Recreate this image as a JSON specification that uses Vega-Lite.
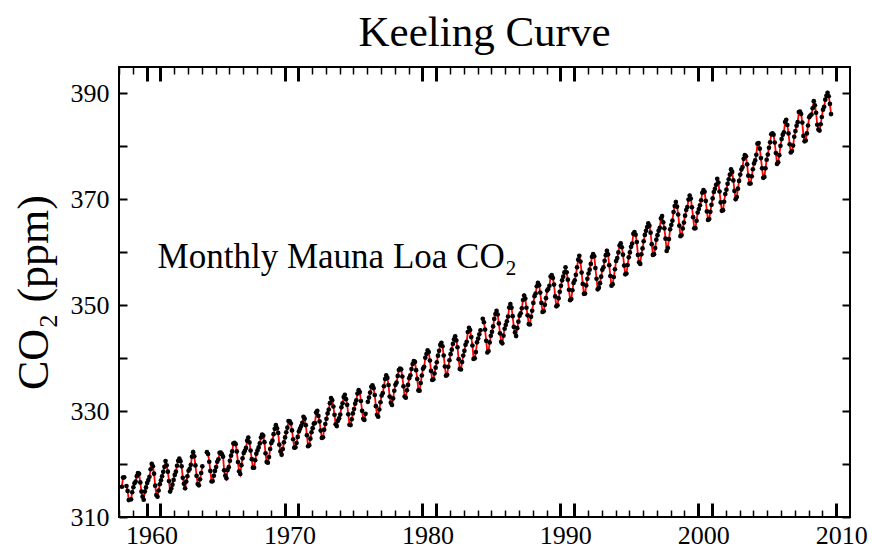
{
  "$schema": "https://vega.github.io/schema/vega-lite/v6.json",
  "width": 731,
  "height": 450,
  "autosize": "none",
  "padding": {"left": 119, "top": 67, "right": 22, "bottom": 33},
  "background": "white",
  "config": {"view": {"stroke": "black", "strokeWidth": 2}},
  "title": {"text": "Keeling Curve", "font": "Liberation Serif", "fontSize": 43, "fontWeight": "normal", "color": "black", "baseline": "alphabetic", "offset": -23, "anchor": "middle"},
  "data": {"values": [
{"t":1958.208,"v":315.71},{"t":1958.292,"v":317.45},{"t":1958.375,"v":317.50},{"t":1958.458,"v":null},{"t":1958.542,"v":315.86},{"t":1958.625,"v":314.93},{"t":1958.708,"v":313.20},{"t":1958.792,"v":null},{"t":1958.875,"v":313.33},{"t":1958.958,"v":314.67},
{"t":1959.042,"v":315.62},{"t":1959.125,"v":316.38},{"t":1959.208,"v":316.71},{"t":1959.292,"v":317.72},{"t":1959.375,"v":318.29},{"t":1959.458,"v":318.15},{"t":1959.542,"v":316.54},{"t":1959.625,"v":314.80},{"t":1959.708,"v":313.84},{"t":1959.792,"v":313.26},{"t":1959.875,"v":314.80},{"t":1959.958,"v":315.58},
{"t":1960.042,"v":316.43},{"t":1960.125,"v":316.97},{"t":1960.208,"v":317.58},{"t":1960.292,"v":319.02},{"t":1960.375,"v":320.03},{"t":1960.458,"v":319.59},{"t":1960.542,"v":318.18},{"t":1960.625,"v":315.91},{"t":1960.708,"v":314.16},{"t":1960.792,"v":313.83},{"t":1960.875,"v":315.00},{"t":1960.958,"v":316.19},
{"t":1961.042,"v":316.93},{"t":1961.125,"v":317.70},{"t":1961.208,"v":318.54},{"t":1961.292,"v":319.48},{"t":1961.375,"v":320.58},{"t":1961.458,"v":319.77},{"t":1961.542,"v":318.57},{"t":1961.625,"v":316.79},{"t":1961.708,"v":314.80},{"t":1961.792,"v":315.38},{"t":1961.875,"v":316.10},{"t":1961.958,"v":317.01},
{"t":1962.042,"v":317.94},{"t":1962.125,"v":318.56},{"t":1962.208,"v":319.68},{"t":1962.292,"v":320.63},{"t":1962.375,"v":321.01},{"t":1962.458,"v":320.55},{"t":1962.542,"v":319.58},{"t":1962.625,"v":317.40},{"t":1962.708,"v":316.26},{"t":1962.792,"v":315.42},{"t":1962.875,"v":316.69},{"t":1962.958,"v":317.69},
{"t":1963.042,"v":318.74},{"t":1963.125,"v":319.08},{"t":1963.208,"v":319.86},{"t":1963.292,"v":321.39},{"t":1963.375,"v":322.25},{"t":1963.458,"v":321.47},{"t":1963.542,"v":319.74},{"t":1963.625,"v":317.77},{"t":1963.708,"v":316.21},{"t":1963.792,"v":315.99},{"t":1963.875,"v":317.12},{"t":1963.958,"v":318.31},
{"t":1964.042,"v":319.57},{"t":1964.125,"v":null},{"t":1964.208,"v":null},{"t":1964.292,"v":null},{"t":1964.375,"v":322.25},{"t":1964.458,"v":321.89},{"t":1964.542,"v":320.44},{"t":1964.625,"v":318.70},{"t":1964.708,"v":316.70},{"t":1964.792,"v":316.79},{"t":1964.875,"v":317.79},{"t":1964.958,"v":318.71},
{"t":1965.042,"v":319.44},{"t":1965.125,"v":320.44},{"t":1965.208,"v":320.89},{"t":1965.292,"v":322.13},{"t":1965.375,"v":322.16},{"t":1965.458,"v":321.87},{"t":1965.542,"v":321.39},{"t":1965.625,"v":318.81},{"t":1965.708,"v":317.81},{"t":1965.792,"v":317.30},{"t":1965.875,"v":318.87},{"t":1965.958,"v":319.42},
{"t":1966.042,"v":320.62},{"t":1966.125,"v":321.59},{"t":1966.208,"v":322.39},{"t":1966.292,"v":323.87},{"t":1966.375,"v":324.01},{"t":1966.458,"v":323.75},{"t":1966.542,"v":322.39},{"t":1966.625,"v":320.37},{"t":1966.708,"v":318.64},{"t":1966.792,"v":318.10},{"t":1966.875,"v":319.79},{"t":1966.958,"v":321.08},
{"t":1967.042,"v":322.07},{"t":1967.125,"v":322.50},{"t":1967.208,"v":323.04},{"t":1967.292,"v":324.42},{"t":1967.375,"v":325.00},{"t":1967.458,"v":324.09},{"t":1967.542,"v":322.55},{"t":1967.625,"v":320.92},{"t":1967.708,"v":319.31},{"t":1967.792,"v":319.31},{"t":1967.875,"v":320.72},{"t":1967.958,"v":321.96},
{"t":1968.042,"v":322.57},{"t":1968.125,"v":323.15},{"t":1968.208,"v":323.89},{"t":1968.292,"v":325.02},{"t":1968.375,"v":325.57},{"t":1968.458,"v":325.36},{"t":1968.542,"v":324.14},{"t":1968.625,"v":322.03},{"t":1968.708,"v":320.41},{"t":1968.792,"v":320.25},{"t":1968.875,"v":321.31},{"t":1968.958,"v":322.84},
{"t":1969.042,"v":324.00},{"t":1969.125,"v":324.42},{"t":1969.208,"v":325.64},{"t":1969.292,"v":326.66},{"t":1969.375,"v":327.34},{"t":1969.458,"v":326.76},{"t":1969.542,"v":325.88},{"t":1969.625,"v":323.67},{"t":1969.708,"v":322.38},{"t":1969.792,"v":321.78},{"t":1969.875,"v":322.85},{"t":1969.958,"v":324.11},
{"t":1970.042,"v":325.03},{"t":1970.125,"v":325.99},{"t":1970.208,"v":326.87},{"t":1970.292,"v":328.13},{"t":1970.375,"v":328.07},{"t":1970.458,"v":327.66},{"t":1970.542,"v":326.35},{"t":1970.625,"v":324.69},{"t":1970.708,"v":323.10},{"t":1970.792,"v":323.16},{"t":1970.875,"v":323.98},{"t":1970.958,"v":325.13},
{"t":1971.042,"v":326.17},{"t":1971.125,"v":326.68},{"t":1971.208,"v":327.18},{"t":1971.292,"v":327.78},{"t":1971.375,"v":328.92},{"t":1971.458,"v":328.57},{"t":1971.542,"v":327.34},{"t":1971.625,"v":325.46},{"t":1971.708,"v":323.36},{"t":1971.792,"v":323.57},{"t":1971.875,"v":324.80},{"t":1971.958,"v":326.01},
{"t":1972.042,"v":326.77},{"t":1972.125,"v":327.63},{"t":1972.208,"v":327.75},{"t":1972.292,"v":329.72},{"t":1972.375,"v":330.07},{"t":1972.458,"v":329.09},{"t":1972.542,"v":328.05},{"t":1972.625,"v":326.32},{"t":1972.708,"v":324.93},{"t":1972.792,"v":325.06},{"t":1972.875,"v":326.50},{"t":1972.958,"v":327.55},
{"t":1973.042,"v":328.54},{"t":1973.125,"v":329.56},{"t":1973.208,"v":330.30},{"t":1973.292,"v":331.50},{"t":1973.375,"v":332.48},{"t":1973.458,"v":332.07},{"t":1973.542,"v":330.87},{"t":1973.625,"v":329.31},{"t":1973.708,"v":327.51},{"t":1973.792,"v":327.18},{"t":1973.875,"v":328.16},{"t":1973.958,"v":328.64},
{"t":1974.042,"v":329.35},{"t":1974.125,"v":330.71},{"t":1974.208,"v":331.48},{"t":1974.292,"v":332.65},{"t":1974.375,"v":333.09},{"t":1974.458,"v":332.25},{"t":1974.542,"v":331.18},{"t":1974.625,"v":329.40},{"t":1974.708,"v":327.43},{"t":1974.792,"v":327.37},{"t":1974.875,"v":328.46},{"t":1974.958,"v":329.57},
{"t":1975.042,"v":330.40},{"t":1975.125,"v":331.40},{"t":1975.208,"v":332.04},{"t":1975.292,"v":333.31},{"t":1975.375,"v":333.96},{"t":1975.458,"v":333.59},{"t":1975.542,"v":331.91},{"t":1975.625,"v":330.06},{"t":1975.708,"v":328.56},{"t":1975.792,"v":328.34},{"t":1975.875,"v":329.49},{"t":1975.958,"v":null},
{"t":1976.042,"v":331.75},{"t":1976.125,"v":332.56},{"t":1976.208,"v":333.50},{"t":1976.292,"v":334.58},{"t":1976.375,"v":334.87},{"t":1976.458,"v":334.34},{"t":1976.542,"v":333.05},{"t":1976.625,"v":330.94},{"t":1976.708,"v":329.30},{"t":1976.792,"v":328.94},{"t":1976.875,"v":330.31},{"t":1976.958,"v":331.68},
{"t":1977.042,"v":332.93},{"t":1977.125,"v":333.42},{"t":1977.208,"v":334.70},{"t":1977.292,"v":336.07},{"t":1977.375,"v":336.74},{"t":1977.458,"v":336.27},{"t":1977.542,"v":334.93},{"t":1977.625,"v":332.75},{"t":1977.708,"v":331.58},{"t":1977.792,"v":331.16},{"t":1977.875,"v":332.40},{"t":1977.958,"v":333.85},
{"t":1978.042,"v":334.97},{"t":1978.125,"v":335.39},{"t":1978.208,"v":336.64},{"t":1978.292,"v":337.76},{"t":1978.375,"v":338.01},{"t":1978.458,"v":337.89},{"t":1978.542,"v":336.54},{"t":1978.625,"v":334.68},{"t":1978.708,"v":332.76},{"t":1978.792,"v":332.54},{"t":1978.875,"v":333.92},{"t":1978.958,"v":334.95},
{"t":1979.042,"v":336.23},{"t":1979.125,"v":336.76},{"t":1979.208,"v":337.96},{"t":1979.292,"v":338.89},{"t":1979.375,"v":339.47},{"t":1979.458,"v":339.29},{"t":1979.542,"v":337.73},{"t":1979.625,"v":336.09},{"t":1979.708,"v":333.91},{"t":1979.792,"v":333.86},{"t":1979.875,"v":335.29},{"t":1979.958,"v":336.73},
{"t":1980.042,"v":338.01},{"t":1980.125,"v":338.36},{"t":1980.208,"v":340.08},{"t":1980.292,"v":340.77},{"t":1980.375,"v":341.46},{"t":1980.458,"v":341.17},{"t":1980.542,"v":339.56},{"t":1980.625,"v":337.60},{"t":1980.708,"v":335.88},{"t":1980.792,"v":336.01},{"t":1980.875,"v":337.10},{"t":1980.958,"v":338.21},
{"t":1981.042,"v":339.23},{"t":1981.125,"v":340.47},{"t":1981.208,"v":341.38},{"t":1981.292,"v":342.51},{"t":1981.375,"v":342.91},{"t":1981.458,"v":342.25},{"t":1981.542,"v":340.49},{"t":1981.625,"v":338.43},{"t":1981.708,"v":336.69},{"t":1981.792,"v":336.85},{"t":1981.875,"v":338.36},{"t":1981.958,"v":339.61},
{"t":1982.042,"v":340.75},{"t":1982.125,"v":341.61},{"t":1982.208,"v":342.70},{"t":1982.292,"v":343.56},{"t":1982.375,"v":344.13},{"t":1982.458,"v":343.35},{"t":1982.542,"v":342.06},{"t":1982.625,"v":339.82},{"t":1982.708,"v":337.97},{"t":1982.792,"v":337.86},{"t":1982.875,"v":339.26},{"t":1982.958,"v":340.49},
{"t":1983.042,"v":341.38},{"t":1983.125,"v":342.52},{"t":1983.208,"v":343.10},{"t":1983.292,"v":344.94},{"t":1983.375,"v":345.75},{"t":1983.458,"v":345.32},{"t":1983.542,"v":343.99},{"t":1983.625,"v":342.39},{"t":1983.708,"v":339.86},{"t":1983.792,"v":339.99},{"t":1983.875,"v":341.16},{"t":1983.958,"v":342.99},
{"t":1984.042,"v":343.70},{"t":1984.125,"v":344.51},{"t":1984.208,"v":345.28},{"t":1984.292,"v":null},{"t":1984.375,"v":347.43},{"t":1984.458,"v":346.79},{"t":1984.542,"v":345.40},{"t":1984.625,"v":343.28},{"t":1984.708,"v":341.07},{"t":1984.792,"v":341.35},{"t":1984.875,"v":342.98},{"t":1984.958,"v":344.22},
{"t":1985.042,"v":344.97},{"t":1985.125,"v":345.99},{"t":1985.208,"v":347.42},{"t":1985.292,"v":348.35},{"t":1985.375,"v":348.93},{"t":1985.458,"v":348.25},{"t":1985.542,"v":346.56},{"t":1985.625,"v":344.69},{"t":1985.708,"v":343.09},{"t":1985.792,"v":342.80},{"t":1985.875,"v":344.24},{"t":1985.958,"v":345.56},
{"t":1986.042,"v":346.29},{"t":1986.125,"v":346.96},{"t":1986.208,"v":347.86},{"t":1986.292,"v":349.55},{"t":1986.375,"v":350.21},{"t":1986.458,"v":349.54},{"t":1986.542,"v":347.94},{"t":1986.625,"v":345.91},{"t":1986.708,"v":344.86},{"t":1986.792,"v":344.17},{"t":1986.875,"v":345.66},{"t":1986.958,"v":346.90},
{"t":1987.042,"v":348.02},{"t":1987.125,"v":348.47},{"t":1987.208,"v":349.42},{"t":1987.292,"v":350.99},{"t":1987.375,"v":351.84},{"t":1987.458,"v":351.25},{"t":1987.542,"v":349.52},{"t":1987.625,"v":348.10},{"t":1987.708,"v":346.44},{"t":1987.792,"v":346.36},{"t":1987.875,"v":347.81},{"t":1987.958,"v":348.96},
{"t":1988.042,"v":350.43},{"t":1988.125,"v":351.72},{"t":1988.208,"v":352.22},{"t":1988.292,"v":353.59},{"t":1988.375,"v":354.22},{"t":1988.458,"v":353.79},{"t":1988.542,"v":352.39},{"t":1988.625,"v":350.44},{"t":1988.708,"v":348.72},{"t":1988.792,"v":348.88},{"t":1988.875,"v":350.07},{"t":1988.958,"v":351.34},
{"t":1989.042,"v":352.76},{"t":1989.125,"v":353.07},{"t":1989.208,"v":353.68},{"t":1989.292,"v":355.42},{"t":1989.375,"v":355.67},{"t":1989.458,"v":355.13},{"t":1989.542,"v":353.90},{"t":1989.625,"v":351.67},{"t":1989.708,"v":349.80},{"t":1989.792,"v":349.99},{"t":1989.875,"v":351.30},{"t":1989.958,"v":352.53},
{"t":1990.042,"v":353.66},{"t":1990.125,"v":354.70},{"t":1990.208,"v":355.39},{"t":1990.292,"v":356.20},{"t":1990.375,"v":357.16},{"t":1990.458,"v":356.22},{"t":1990.542,"v":354.82},{"t":1990.625,"v":352.91},{"t":1990.708,"v":350.96},{"t":1990.792,"v":351.18},{"t":1990.875,"v":352.83},{"t":1990.958,"v":354.21},
{"t":1991.042,"v":354.72},{"t":1991.125,"v":355.75},{"t":1991.208,"v":357.16},{"t":1991.292,"v":358.60},{"t":1991.375,"v":359.34},{"t":1991.458,"v":358.24},{"t":1991.542,"v":356.17},{"t":1991.625,"v":354.03},{"t":1991.708,"v":352.16},{"t":1991.792,"v":352.21},{"t":1991.875,"v":353.75},{"t":1991.958,"v":354.99},
{"t":1992.042,"v":355.99},{"t":1992.125,"v":356.72},{"t":1992.208,"v":357.81},{"t":1992.292,"v":359.15},{"t":1992.375,"v":359.66},{"t":1992.458,"v":359.25},{"t":1992.542,"v":357.02},{"t":1992.625,"v":355.00},{"t":1992.708,"v":353.01},{"t":1992.792,"v":353.31},{"t":1992.875,"v":354.16},{"t":1992.958,"v":355.40},
{"t":1993.042,"v":356.70},{"t":1993.125,"v":357.17},{"t":1993.208,"v":358.38},{"t":1993.292,"v":359.46},{"t":1993.375,"v":360.28},{"t":1993.458,"v":359.60},{"t":1993.542,"v":357.57},{"t":1993.625,"v":355.52},{"t":1993.708,"v":353.70},{"t":1993.792,"v":353.98},{"t":1993.875,"v":355.33},{"t":1993.958,"v":356.80},
{"t":1994.042,"v":358.36},{"t":1994.125,"v":358.91},{"t":1994.208,"v":359.97},{"t":1994.292,"v":361.26},{"t":1994.375,"v":361.68},{"t":1994.458,"v":360.95},{"t":1994.542,"v":359.55},{"t":1994.625,"v":357.49},{"t":1994.708,"v":355.84},{"t":1994.792,"v":356.00},{"t":1994.875,"v":357.59},{"t":1994.958,"v":359.05},
{"t":1995.042,"v":359.98},{"t":1995.125,"v":361.03},{"t":1995.208,"v":361.66},{"t":1995.292,"v":363.48},{"t":1995.375,"v":363.82},{"t":1995.458,"v":363.30},{"t":1995.542,"v":361.94},{"t":1995.625,"v":359.50},{"t":1995.708,"v":358.11},{"t":1995.792,"v":357.80},{"t":1995.875,"v":359.61},{"t":1995.958,"v":360.74},
{"t":1996.042,"v":362.09},{"t":1996.125,"v":363.29},{"t":1996.208,"v":364.06},{"t":1996.292,"v":364.76},{"t":1996.375,"v":365.45},{"t":1996.458,"v":365.01},{"t":1996.542,"v":363.70},{"t":1996.625,"v":361.54},{"t":1996.708,"v":359.51},{"t":1996.792,"v":359.65},{"t":1996.875,"v":360.80},{"t":1996.958,"v":362.38},
{"t":1997.042,"v":363.23},{"t":1997.125,"v":364.06},{"t":1997.208,"v":364.61},{"t":1997.292,"v":366.40},{"t":1997.375,"v":366.84},{"t":1997.458,"v":365.68},{"t":1997.542,"v":364.52},{"t":1997.625,"v":362.57},{"t":1997.708,"v":360.24},{"t":1997.792,"v":360.83},{"t":1997.875,"v":362.49},{"t":1997.958,"v":364.34},
{"t":1998.042,"v":365.16},{"t":1998.125,"v":365.98},{"t":1998.208,"v":367.59},{"t":1998.292,"v":368.75},{"t":1998.375,"v":369.49},{"t":1998.458,"v":368.61},{"t":1998.542,"v":367.14},{"t":1998.625,"v":365.03},{"t":1998.708,"v":363.04},{"t":1998.792,"v":363.26},{"t":1998.875,"v":364.50},{"t":1998.958,"v":365.62},
{"t":1999.042,"v":366.91},{"t":1999.125,"v":367.99},{"t":1999.208,"v":368.55},{"t":1999.292,"v":369.96},{"t":1999.375,"v":370.72},{"t":1999.458,"v":370.15},{"t":1999.542,"v":368.51},{"t":1999.625,"v":366.63},{"t":1999.708,"v":364.52},{"t":1999.792,"v":364.55},{"t":1999.875,"v":365.94},{"t":1999.958,"v":367.51},
{"t":2000.042,"v":368.18},{"t":2000.125,"v":368.89},{"t":2000.208,"v":369.83},{"t":2000.292,"v":371.25},{"t":2000.375,"v":371.73},{"t":2000.458,"v":371.44},{"t":2000.542,"v":369.70},{"t":2000.625,"v":367.72},{"t":2000.708,"v":366.12},{"t":2000.792,"v":366.29},{"t":2000.875,"v":367.64},{"t":2000.958,"v":368.97},
{"t":2001.042,"v":370.17},{"t":2001.125,"v":371.39},{"t":2001.208,"v":372.00},{"t":2001.292,"v":372.75},{"t":2001.375,"v":373.88},{"t":2001.458,"v":373.17},{"t":2001.542,"v":371.48},{"t":2001.625,"v":369.42},{"t":2001.708,"v":367.83},{"t":2001.792,"v":367.96},{"t":2001.875,"v":369.55},{"t":2001.958,"v":371.00},
{"t":2002.042,"v":371.82},{"t":2002.125,"v":372.93},{"t":2002.208,"v":373.80},{"t":2002.292,"v":374.66},{"t":2002.375,"v":375.65},{"t":2002.458,"v":375.19},{"t":2002.542,"v":373.57},{"t":2002.625,"v":371.60},{"t":2002.708,"v":370.02},{"t":2002.792,"v":370.45},{"t":2002.875,"v":372.02},{"t":2002.958,"v":373.48},
{"t":2003.042,"v":374.68},{"t":2003.125,"v":375.63},{"t":2003.208,"v":376.11},{"t":2003.292,"v":377.65},{"t":2003.375,"v":378.35},{"t":2003.458,"v":378.13},{"t":2003.542,"v":376.61},{"t":2003.625,"v":374.48},{"t":2003.708,"v":372.98},{"t":2003.792,"v":373.00},{"t":2003.875,"v":374.35},{"t":2003.958,"v":375.69},
{"t":2004.042,"v":376.79},{"t":2004.125,"v":377.36},{"t":2004.208,"v":378.41},{"t":2004.292,"v":380.52},{"t":2004.375,"v":380.63},{"t":2004.458,"v":379.57},{"t":2004.542,"v":377.79},{"t":2004.625,"v":375.86},{"t":2004.708,"v":374.06},{"t":2004.792,"v":374.24},{"t":2004.875,"v":375.86},{"t":2004.958,"v":377.48},
{"t":2005.042,"v":378.46},{"t":2005.125,"v":379.73},{"t":2005.208,"v":380.77},{"t":2005.292,"v":382.29},{"t":2005.375,"v":382.45},{"t":2005.458,"v":382.21},{"t":2005.542,"v":380.74},{"t":2005.625,"v":378.74},{"t":2005.708,"v":376.70},{"t":2005.792,"v":377.00},{"t":2005.875,"v":378.35},{"t":2005.958,"v":380.11},
{"t":2006.042,"v":381.38},{"t":2006.125,"v":382.19},{"t":2006.208,"v":382.67},{"t":2006.292,"v":384.61},{"t":2006.375,"v":385.03},{"t":2006.458,"v":384.05},{"t":2006.542,"v":382.46},{"t":2006.625,"v":380.41},{"t":2006.708,"v":378.85},{"t":2006.792,"v":379.13},{"t":2006.875,"v":380.15},{"t":2006.958,"v":381.82},
{"t":2007.042,"v":382.89},{"t":2007.125,"v":383.90},{"t":2007.208,"v":384.58},{"t":2007.292,"v":386.50},{"t":2007.375,"v":386.56},{"t":2007.458,"v":386.10},{"t":2007.542,"v":384.50},{"t":2007.625,"v":381.99},{"t":2007.708,"v":380.96},{"t":2007.792,"v":381.12},{"t":2007.875,"v":382.45},{"t":2007.958,"v":383.95},
{"t":2008.042,"v":385.52},{"t":2008.125,"v":385.82},{"t":2008.208,"v":386.03},{"t":2008.292,"v":387.21},{"t":2008.375,"v":388.54},{"t":2008.458,"v":387.76},{"t":2008.542,"v":386.36},{"t":2008.625,"v":384.09},{"t":2008.708,"v":383.18},{"t":2008.792,"v":382.99},{"t":2008.875,"v":384.19},{"t":2008.958,"v":385.56},
{"t":2009.042,"v":386.94},{"t":2009.125,"v":387.48},{"t":2009.208,"v":388.82},{"t":2009.292,"v":389.55},{"t":2009.375,"v":390.14},{"t":2009.458,"v":389.48},{"t":2009.542,"v":388.03},{"t":2009.625,"v":386.11}
  ]},
  "resolve": {"axis": {"x": "independent", "y": "independent"}},
  "layer": [
    {
      "mark": {"type": "line", "color": "#ff0000", "strokeWidth": 1.8, "invalid": "break-paths-show-domains"},
      "encoding": {
        "x": {"field": "t", "type": "quantitative",
          "scale": {"domain": [1958, 2011], "nice": false, "zero": false},
          "axis": {"orient": "bottom", "title": null, "grid": false, "domain": false,
            "values": [1958,1959,1960,1961,1962,1963,1964,1965,1966,1967,1968,1969,1970,1971,1972,1973,1974,1975,1976,1977,1978,1979,1980,1981,1982,1983,1984,1985,1986,1987,1988,1989,1990,1991,1992,1993,1994,1995,1996,1997,1998,1999,2000,2001,2002,2003,2004,2005,2006,2007,2008,2009,2010],
            "format": "d", "labelExpr": "datum.value % 10 == 0 ? datum.label : ''",
            "tickColor": "black",
            "tickSize": {"condition": {"test": "datum.value % 10 <= 1", "value": -14}, "value": -7},
            "tickWidth": {"condition": {"test": "datum.value % 10 <= 1", "value": 3}, "value": 1.5},
            "labelFont": "Liberation Serif", "labelFontSize": 26, "labelColor": "black",
            "labelPadding": 19, "labelOffset": 5, "labelOverlap": false, "labelFlush": false}},
        "y": {"field": "v", "type": "quantitative",
          "scale": {"domain": [310, 395], "nice": false, "zero": false},
          "axis": {"orient": "left", "title": "CO₂ (ppm)", "grid": false, "domain": false,
            "values": [310,320,330,340,350,360,370,380,390],
            "labelExpr": "datum.value % 20 == 10 ? datum.label : ''",
            "tickColor": "black", "tickSize": -8, "tickWidth": 2,
            "labelFont": "Liberation Serif", "labelFontSize": 26, "labelColor": "black",
            "labelPadding": 18, "labelOverlap": false, "labelFlush": false,
            "titleFont": "Liberation Serif", "titleFontSize": 44, "titleFontWeight": "normal", "titleColor": "black", "titlePadding": 14}}
      }
    },
    {
      "mark": {"type": "point", "filled": true, "color": "black", "size": 22, "opacity": 1, "invalid": "filter"},
      "encoding": {
        "x": {"field": "t", "type": "quantitative",
          "axis": {"orient": "top", "title": null, "grid": false, "domain": false, "labels": false,
            "values": [1958,1959,1960,1961,1962,1963,1964,1965,1966,1967,1968,1969,1970,1971,1972,1973,1974,1975,1976,1977,1978,1979,1980,1981,1982,1983,1984,1985,1986,1987,1988,1989,1990,1991,1992,1993,1994,1995,1996,1997,1998,1999,2000,2001,2002,2003,2004,2005,2006,2007,2008,2009,2010],
            "tickColor": "black",
            "tickSize": {"condition": {"test": "datum.value % 10 <= 1", "value": -14}, "value": -7},
            "tickWidth": {"condition": {"test": "datum.value % 10 <= 1", "value": 3}, "value": 1.5}}},
        "y": {"field": "v", "type": "quantitative",
          "axis": {"orient": "right", "title": null, "grid": false, "domain": false, "labels": false,
            "values": [310,320,330,340,350,360,370,380,390],
            "tickColor": "black", "tickSize": -8, "tickWidth": 2}}
      }
    },
    {
      "data": {"values": [{}]},
      "mark": {"type": "text", "font": "Liberation Serif", "fontSize": 35, "color": "black", "align": "left", "baseline": "alphabetic"},
      "encoding": {
        "x": {"datum": 1960.8, "type": "quantitative", "axis": null},
        "y": {"datum": 357, "type": "quantitative", "axis": null},
        "text": {"value": "Monthly Mauna Loa CO₂"}
      }
    }
  ]
}
